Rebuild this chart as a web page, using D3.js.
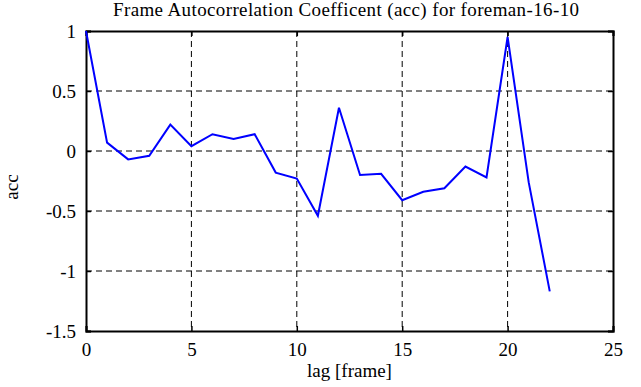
<!DOCTYPE html>
<html>
<head>
<meta charset="utf-8">
<script src="https://cdn.jsdelivr.net/npm/d3@7"></script>
<style>
body { margin: 0; background: #fff; }
text { font-family: "Liberation Serif", "DejaVu Serif", serif; }
</style>
</head>
<body>
<div id="chart"></div>
<script>
// lag values and autocorrelation
var lags = [0,1,2,3,4,5,6,7,8,9,10,11,12,13,14,15,16,17,18,19,20,21,22]
var acc = [1.0,0.07,-0.07,-0.04,0.22,0.04,0.14,0.1,0.14,-0.18,-0.23,-0.54,0.36,-0.2,-0.19,-0.41,-0.34,-0.31,-0.13,-0.22,0.95,-0.26,-1.17]
var xTicks = [0,5,10,15,20,25]
var yTicks = [1,0.5,0,-0.5,-1,-1.5]

var W = 641, H = 387
var pLeft = 86, pRight = 613, pTop = 31, pBottom = 331

var svg = d3.select("#chart").append("svg").attr("width",W).attr("height",H)

var x = d3.scaleLinear().domain([0,25]).range([pLeft,pRight])
var y = d3.scaleLinear().domain([-1.5,1]).range([pBottom,pTop])

// dashed grid
svg.selectAll(".vgrid").data(xTicks.slice(1,-1)).enter().append("line")
    .attr("x1",d=>x(d)).attr("x2",d=>x(d)).attr("y1",pTop).attr("y2",pBottom)
    .attr("stroke","#000").attr("stroke-width",1).attr("stroke-dasharray","6,4")
svg.selectAll(".hgrid").data(yTicks.slice(1,-1)).enter().append("line")
    .attr("x1",pLeft).attr("x2",pRight).attr("y1",d=>y(d)).attr("y2",d=>y(d))
    .attr("stroke","#000").attr("stroke-width",1).attr("stroke-dasharray","6,4")

// axes with inward ticks on all four sides
var tk = 5
svg.append("g").attr("transform","translate(0,"+pBottom+")")
    .call(d3.axisBottom(x).tickValues(xTicks).tickSize(-tk).tickPadding(tk+7).tickFormat(d3.format("d")))
svg.append("g").attr("transform","translate(0,"+pTop+")")
    .call(d3.axisTop(x).tickValues(xTicks).tickSize(-tk).tickFormat(""))
svg.append("g").attr("transform","translate("+pLeft+",0)")
    .call(d3.axisLeft(y).tickValues(yTicks).tickSize(-tk).tickPadding(tk+5).tickFormat(d=>String(d)))
svg.append("g").attr("transform","translate("+pRight+",0)")
    .call(d3.axisRight(y).tickValues(yTicks).tickSize(-tk).tickFormat(""))

svg.selectAll(".domain").attr("stroke","#000").attr("stroke-width",2)
svg.selectAll(".tick line").attr("stroke","#000").attr("stroke-width",1.5)
svg.selectAll(".tick text").attr("font-size","19px").attr("fill","#000")
    .attr("font-family","Liberation Serif, serif")

// the series
var line = d3.line().x((d,i)=>x(lags[i])).y(d=>y(d))
svg.append("path").datum(acc).attr("d",line)
    .attr("fill","none").attr("stroke","#0000ff").attr("stroke-width",2)

// title and labels
svg.append("text").text("Frame Autocorrelation Coefficent (acc) for foreman-16-10")
    .attr("x",346).attr("y",16).attr("text-anchor","middle")
    .attr("font-size","19px").attr("textLength",466)
svg.append("text").text("lag [frame]")
    .attr("x",(pLeft+pRight)/2).attr("y",377).attr("text-anchor","middle")
    .attr("font-size","19px")
svg.append("text").text("acc")
    .attr("transform","translate(18,187) rotate(-90)")
    .attr("text-anchor","middle").attr("font-size","19px")
</script>
</body>
</html>
